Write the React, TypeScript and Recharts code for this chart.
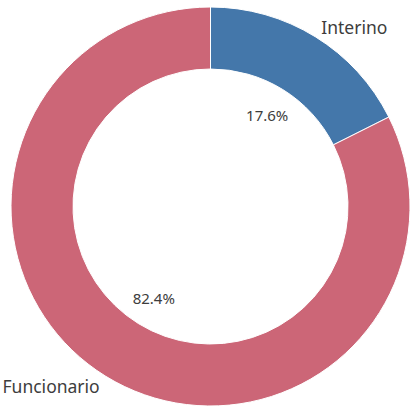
import React from 'react';
import { PieChart, Pie, Cell } from 'recharts';

const categories = ['Interino', 'Funcionario'];
const shares = [17.6, 82.4];
const colors = ['#4477aa', '#cc6677'];

const data = categories.map((name, i) => ({ name, value: shares[i] }));

const RAD = Math.PI / 180;
const FONT = '"Noto Sans", "Open Sans", sans-serif';

const renderLabel = (props: any) => {
  const { cx, cy, midAngle, index } = props;
  const cos = Math.cos(-midAngle * RAD);
  const sin = Math.sin(-midAngle * RAD);
  const pr = 108;
  const lr = 211;
  const px = cx + pr * cos;
  const py = cy + pr * sin;
  const lx = cx + lr * cos;
  const ly = cy + lr * sin;
  return (
    <g>
      <text x={px} y={py} textAnchor="middle" dominantBaseline="central" fill="#3d3d3d" fontSize={15} fontFamily={FONT}>
        {`${shares[index].toFixed(1)}%`}
      </text>
      <text x={lx} y={ly} textAnchor={cos >= 0 ? 'start' : 'end'} dominantBaseline="central" fill="#3d3d3d" fontSize={17.5} fontFamily={FONT}>
        {categories[index]}
      </text>
    </g>
  );
};

export default function App() {
  return (
    <div style={{ position: 'absolute', left: 0, top: 0, width: 411, height: 409, background: '#fff' }}>
      <PieChart width={411} height={409} margin={{ top: 0, right: 0, bottom: 0, left: 0 }}>
        <Pie
          data={data}
          dataKey="value"
          nameKey="name"
          cx={210.5}
          cy={206.5}
          innerRadius={137.5}
          outerRadius={199.5}
          startAngle={90}
          endAngle={-270}
          stroke="#ffffff"
          strokeWidth={1}
          labelLine={false}
          label={renderLabel}
          isAnimationActive={false}
        >
          {data.map((d, i) => (
            <Cell key={d.name} fill={colors[i]} />
          ))}
        </Pie>
      </PieChart>
    </div>
  );
}
